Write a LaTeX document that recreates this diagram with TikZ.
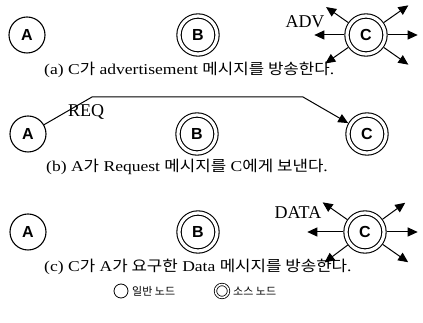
\documentclass[tikz,border=0pt]{standalone}
\usepackage{fontspec}
\setmainfont{Liberation Serif}[FakeStretch=1.17]
\newfontfamily\kr{Noto Sans CJK KR}[FakeStretch=1.12]
\newfontfamily\krleg{Noto Sans CJK KR}
\newfontfamily\lbl{Liberation Sans}
\newfontfamily\msgfont{Liberation Serif}
\usetikzlibrary{arrows.meta}
\begin{document}
\begin{tikzpicture}[x=1pt,y=1pt,
  plainnode/.style={circle, draw, line width=1.1pt, minimum size=36pt, inner sep=0pt, font=\lbl\bfseries\fontsize{16}{16}\selectfont},
  srcnode/.style={circle, draw, double, double distance=3.2pt, line width=1.1pt, minimum size=38pt, inner sep=0pt, outer sep=2.7pt, font=\lbl\bfseries\fontsize{16}{16}\selectfont},
  bc/.style={-{Triangle[length=10pt,width=9pt]}, line width=1pt},
  captxt/.style={anchor=west, inner sep=0pt, font=\fontsize{15}{15}\selectfont},
  msg/.style={inner sep=0pt, font=\msgfont\fontsize{18}{18}\selectfont},
  leg/.style={anchor=west, inner sep=0pt, font=\krleg\fontsize{11}{11}\selectfont}]
\useasboundingbox (0,0) rectangle (423,323);
% row a
\node[plainnode] (A1) at (27,288) {A};
\node[srcnode] (B1) at (198,288) {B};
\node[srcnode] (C1) at (366,288) {C};
\node[msg] (adv) at (305,301) {ADV};
\draw[bc] (C1.0) -- ++(0:30);
\draw[bc] (C1.35) -- ++(35:30);
\draw[bc] (C1.145) -- ++(145:27);
\draw[bc] (C1.180) -- ++(180:30);
\draw[bc] (C1.215) -- ++(215:28);
\draw[bc] (C1.325) -- ++(325:30);
\node[captxt] (capa) at (44,253) {(a) C{\kr 가} advertisement {\kr 메시지를 방송한다}.};
% row b
\node[plainnode] (A2) at (28,189) {A};
\node[srcnode] (B2) at (197,189) {B};
\node[srcnode] (C2) at (367,189) {C};
\coordinate (r1) at (92,226);
\coordinate (r2) at (303,226);
\draw[bc] (A2) -- (r1) -- (r2) -- (C2);
\node[msg] (req) at (86,211) {REQ};
\node[captxt] (capb) at (46,156) {(b) A{\kr 가} Request {\kr 메시지를} C{\kr 에게 보낸다}.};
% row c
\node[plainnode] (A3) at (28,91) {A};
\node[srcnode] (B3) at (198,91) {B};
\node[srcnode] (C3) at (365,91) {C};
\node[msg] (data) at (298,110) {DATA};
\draw[bc] (C3.0) -- ++(0:31);
\draw[bc] (C3.36) -- ++(36:28);
\draw[bc] (C3.145) -- ++(145:30);
\draw[bc] (C3.180) -- ++(180:36);
\draw[bc] (C3.217) -- ++(217:29);
\draw[bc] (C3.325) -- ++(325:31);
\node[captxt] (capc) at (44,56) {(c) C{\kr 가} A{\kr 가 요구한} Data {\kr 메시지를 방송한다}.};
% legend
\node[circle, draw, line width=0.8pt, minimum size=14pt, inner sep=0pt] (l1) at (121,32) {};
\node[leg] (l1t) at (132,32) {일반 노드};
\node[circle, draw, double, double distance=1.6pt, line width=0.8pt, minimum size=13pt, inner sep=0pt] (l2) at (222,32) {};
\node[leg] (l2t) at (233,32) {소스 노드};
\end{tikzpicture}
\end{document}
